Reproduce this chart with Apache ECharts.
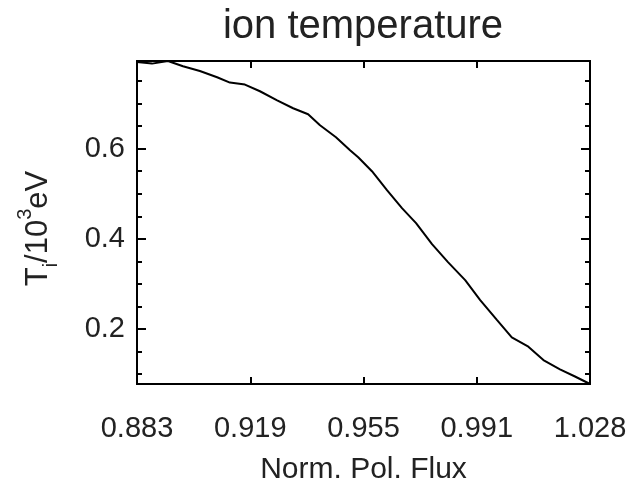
<!DOCTYPE html>
<html>
<head>
<meta charset="utf-8">
<script src="https://cdn.jsdelivr.net/npm/echarts@6/dist/echarts.min.js"></script>
<style>
html,body{margin:0;padding:0;background:#fff;}
#chart{width:635px;height:491px;}
</style>
</head>
<body>
<div id="chart"></div>
<script>
// Normalized poloidal flux (x) and ion temperature in 10^3 eV (y)
var fluxValues = [0.8828, 0.8876, 0.8927, 0.8975, 0.9029, 0.9084, 0.9125, 0.9173, 0.9221, 0.9276,
  0.9327, 0.9375, 0.9413, 0.9464, 0.9509, 0.9535, 0.9579, 0.9627, 0.9675, 0.9720,
  0.9771, 0.9822, 0.9877, 0.9925, 0.9979, 1.0026, 1.0079, 1.0127, 1.0180, 1.0228, 1.0276];
var tempValues = [0.7923, 0.7887, 0.7945, 0.7828, 0.7723, 0.7584, 0.7466, 0.7422, 0.7274, 0.7074,
  0.6897, 0.6764, 0.6520, 0.6254, 0.5966, 0.5811, 0.5501, 0.5080, 0.4681, 0.4349,
  0.3883, 0.3485, 0.3086, 0.2643, 0.2199, 0.1816, 0.1608, 0.1313, 0.1107, 0.0947, 0.0781];
var xTickValues = [0.8828, 0.9190, 0.9552, 0.9914, 1.0276];
var yMajorTicks = [0.2, 0.4, 0.6];
var yMinorTicks = [0.1, 0.15, 0.25, 0.3, 0.35, 0.45, 0.5, 0.55, 0.65, 0.7, 0.75];
var xMin = 0.8828, xMax = 1.0276, yMin = 0.0781, yMax = 0.7945;

var FONT = 'Liberation Sans';
var TXT = '#222';
var data = fluxValues.map(function (x, i) { return [x, tempValues[i]]; });

function xAxisDef(pos, showLabel, extra) {
  var a = {
    type: 'value', position: pos, min: xMin, max: xMax,
    axisLine: { show: true, onZero: false, lineStyle: { color: '#000', width: 2 } },
    axisTick: { show: true, inside: true, length: 7, customValues: xTickValues, lineStyle: { color: '#000', width: 2 } },
    axisLabel: { show: showLabel, customValues: xTickValues, margin: 30, fontFamily: FONT, fontSize: 29, color: TXT,
      formatter: function (v) { return v.toFixed(3); } },
    splitLine: { show: false }
  };
  return Object.assign(a, extra || {});
}
function yAxisDef(pos, ticks, len, showLabel, extra) {
  var a = {
    type: 'value', position: pos, min: yMin, max: yMax,
    axisLine: { show: true, onZero: false, lineStyle: { color: '#000', width: 2 } },
    axisTick: { show: true, inside: true, length: len, customValues: ticks, lineStyle: { color: '#000', width: 2 } },
    axisLabel: { show: showLabel, customValues: ticks, margin: 12, fontFamily: FONT, fontSize: 29, color: TXT,
      formatter: function (v) { return v.toFixed(1); } },
    splitLine: { show: false }
  };
  return Object.assign(a, extra || {});
}

var chart = echarts.init(document.getElementById('chart'), null, { renderer: 'canvas' });
chart.setOption({
  animation: false,
  backgroundColor: '#fff',
  title: {
    text: 'ion temperature', left: 363, top: 7, textAlign: 'center', padding: 0,
    textStyle: { fontFamily: FONT, fontSize: 40, fontWeight: 'normal', color: TXT }
  },
  grid: { left: 137, top: 61, right: 45, bottom: 107, containLabel: false },
  xAxis: [
    xAxisDef('bottom', true, {
      name: 'Norm. Pol. Flux', nameLocation: 'middle', nameGap: 71,
      nameTextStyle: { fontFamily: FONT, fontSize: 30, color: TXT }
    }),
    xAxisDef('top', false)
  ],
  yAxis: [
    yAxisDef('left', yMajorTicks, 9, true, {
      name: '{t|T}{sub|i}{t|/10}{sup|3}{t|eV}', nameLocation: 'middle', nameGap: 76,
      nameTextStyle: {
        fontFamily: FONT, fontSize: 31, color: TXT, padding: [0, 12, 0, 0],
        rich: {
          t: { fontFamily: FONT, fontSize: 31, color: TXT, lineHeight: 46, verticalAlign: 'middle' },
          sub: { fontFamily: FONT, fontSize: 20, color: TXT, lineHeight: 46, verticalAlign: 'bottom' },
          sup: { fontFamily: FONT, fontSize: 20, color: TXT, lineHeight: 46, verticalAlign: 'top' }
        }
      }
    }),
    yAxisDef('left', yMinorTicks, 5, false),
    yAxisDef('right', yMajorTicks, 9, false),
    yAxisDef('right', yMinorTicks, 5, false)
  ],
  series: [{
    type: 'line', xAxisIndex: 0, yAxisIndex: 0, data: data,
    showSymbol: false, symbol: 'none', smooth: false,
    lineStyle: { color: '#000', width: 2 }
  }]
});
</script>
</body>
</html>
